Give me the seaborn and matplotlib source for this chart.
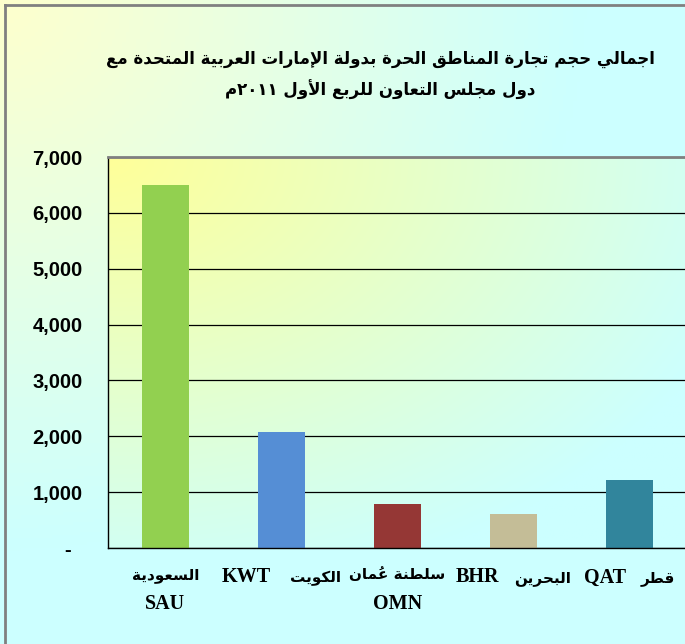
import re
import numpy as np
import seaborn as sns
import matplotlib
matplotlib.use("Agg")
import matplotlib.pyplot as plt
from matplotlib.lines import Line2D
from matplotlib.colors import to_rgb
from matplotlib.offsetbox import TextArea, HPacker, VPacker, AnnotationBbox
import matplotlib.ticker as ticker

# data
codes = ["SAU", "KWT", "OMN", "BHR", "QAT"]
names_ar = ["السعودية", "الكويت", "سلطنة عُمان", "البحرين", "قطر"]
values = [6500, 2075, 790, 610, 1220]
bar_colors = ["#92D050", "#558ED5", "#953735", "#C4BD97", "#31859C"]
title_lines = ["اجمالي حجم تجارة المناطق الحرة بدولة الإمارات العربية المتحدة مع",
               "دول مجلس التعاون للربع الأول ٢٠١١م"]
yticks = [0, 1000, 2000, 3000, 4000, 5000, 6000, 7000]
two_line = [True, False, True, False, False]

# --- tiny arabic shaper (matplotlib has no text shaping / bidi) ---
FORMS = {
    "ا": (0xFE8D, 0xFE8E, None, None), "أ": (0xFE83, 0xFE84, None, None),
    "إ": (0xFE87, 0xFE88, None, None), "آ": (0xFE81, 0xFE82, None, None),
    "ب": (0xFE8F, 0xFE90, 0xFE91, 0xFE92), "ة": (0xFE93, 0xFE94, None, None),
    "ت": (0xFE95, 0xFE96, 0xFE97, 0xFE98), "ج": (0xFE9D, 0xFE9E, 0xFE9F, 0xFEA0),
    "ح": (0xFEA1, 0xFEA2, 0xFEA3, 0xFEA4), "د": (0xFEA9, 0xFEAA, None, None),
    "ر": (0xFEAD, 0xFEAE, None, None), "س": (0xFEB1, 0xFEB2, 0xFEB3, 0xFEB4),
    "ط": (0xFEC1, 0xFEC2, 0xFEC3, 0xFEC4), "ع": (0xFEC9, 0xFECA, 0xFECB, 0xFECC),
    "ق": (0xFED5, 0xFED6, 0xFED7, 0xFED8), "ك": (0xFED9, 0xFEDA, 0xFEDB, 0xFEDC),
    "ل": (0xFEDD, 0xFEDE, 0xFEDF, 0xFEE0), "م": (0xFEE1, 0xFEE2, 0xFEE3, 0xFEE4),
    "ن": (0xFEE5, 0xFEE6, 0xFEE7, 0xFEE8), "و": (0xFEED, 0xFEEE, None, None),
    "ي": (0xFEF1, 0xFEF2, 0xFEF3, 0xFEF4),
}
LAM_ALEF = {"ا": (0xFEFB, 0xFEFC), "أ": (0xFEF7, 0xFEF8),
            "إ": (0xFEF9, 0xFEFA), "آ": (0xFEF5, 0xFEF6)}
MARKS = set(chr(c) for c in range(0x064B, 0x0653))


def ar(text):
    letters = list(text)
    clusters = []
    n = len(letters)

    def prev_joins(k):
        k -= 1
        while k >= 0 and letters[k] in MARKS:
            k -= 1
        return k >= 0 and letters[k] in FORMS and FORMS[letters[k]][2] is not None

    def next_letter(k):
        k += 1
        while k < n and letters[k] in MARKS:
            k += 1
        return k if k < n else None

    i = 0
    while i < n:
        c = letters[i]
        if c in FORMS:
            jp = prev_joins(i)
            j = next_letter(i)
            if c == "ل" and j is not None and letters[j] in LAM_ALEF:
                clusters.append(chr(LAM_ALEF[letters[j]][1 if jp else 0]))
                i = j + 1
                continue
            jn = j is not None and letters[j] in FORMS and FORMS[c][2] is not None
            iso, fin, ini, med = FORMS[c]
            g = med if (jp and jn) else fin if jp else ini if jn else iso
            clusters.append(chr(g))
        elif c in MARKS and clusters:
            # mark goes before its base in visual order so it sits over it
            clusters[-1] = c + clusters[-1]
        else:
            clusters.append(c)
        i += 1
    vis = "".join(clusters[::-1])
    return re.sub("[\u0660-\u0669]+", lambda m: m.group()[::-1], vis)


W, H = 685, 644
fig = plt.figure(figsize=(W / 100, H / 100), dpi=100)
fig.patch.set_linewidth(0)


def gradient(c0, c1, nx, ny, scale):
    xx, yy = np.meshgrid(np.linspace(0, 1, nx), np.linspace(0, 1, ny))
    t = np.clip(np.sqrt(xx ** 2 + yy ** 2) / scale, 0, 1)[..., None]
    a, b = np.array(to_rgb(c0)), np.array(to_rgb(c1))
    return a * (1 - t) + b * t


# figure background with its grey frame (right/bottom cut off in the reference)
bg = fig.add_axes([-0.01, -0.01, 1.02, 1.02], zorder=-10)
bg.imshow(gradient("#FFFFCC", "#CCFFFF", 200, 200, 0.85), extent=[0, 1, 0, 1],
          aspect="auto", origin="upper")
bg.set_axis_off()
fig.add_artist(Line2D([5 / W, 5 / W], [-0.1, 1 - 5 / H], color="#808080", lw=2,
                      transform=fig.transFigure))
fig.add_artist(Line2D([5 / W, 1.1], [1 - 5 / H, 1 - 5 / H], color="#808080", lw=2,
                      transform=fig.transFigure))

sns.set_style("white")
ax = fig.add_axes([107.5 / W, 1 - 548 / H, 580 / W, 391 / H])
ax.patch.set_alpha(0)
ax.imshow(gradient("#FFFF99", "#CCFFFF", 200, 200, 1.15), extent=[-0.5, 4.5, 0, 7000],
          aspect="auto", origin="upper", zorder=-1)

sns.barplot(x=list(range(len(codes))), y=values, hue=list(range(len(codes))),
            palette=bar_colors, width=0.4, legend=False, saturation=1,
            linewidth=0, ax=ax, zorder=2)

ax.set_xlim(-0.5, 4.5)
ax.set_ylim(0, 7000)
ax.set_yticks(yticks)
ax.yaxis.set_major_formatter(ticker.FuncFormatter(
    lambda v, p: "-  " if v == 0 else f"{int(v):,}"))
ax.yaxis.grid(True, color="black", lw=0.9, zorder=1)
ax.set_axisbelow(True)

# category boundaries get the tick marks, labels are packed below
ax.set_xticks(np.arange(-0.5, 5, 1))
ax.set_xticklabels([])
ax.tick_params(axis="x", length=6, width=1, color="black", direction="out")
ax.tick_params(axis="y", length=5, width=1, color="black", direction="out", pad=13)
ax.set_xlabel("")
ax.set_ylabel("")

for lab in ax.get_yticklabels():
    lab.set_fontfamily(["Liberation Sans", "DejaVu Sans"])
    lab.set_fontweight("bold")
    lab.set_fontsize(14.5)
    lab.set_color("black")

lat_props = dict(family="Liberation Serif", weight="bold", size=14.5, color="black")
ar_props = dict(family="DejaVu Sans", weight="bold", size=11, color="black")
gaps = [0, 13.5, 0, 10.5, 10.5]
for i, (code, name) in enumerate(zip(codes, names_ar)):
    t_ar = TextArea(ar(name), textprops=ar_props)
    t_lat = TextArea(code, textprops=lat_props)
    if two_line[i]:
        box = VPacker(children=[t_ar, t_lat], align="center", pad=0, sep=8)
    else:
        box = HPacker(children=[t_lat, t_ar], align="baseline", pad=0, sep=gaps[i])
    ab = AnnotationBbox(box, (i, 0), xycoords=ax.get_xaxis_transform(),
                        xybox=(0, -14), boxcoords="offset points",
                        box_alignment=(0.5, 1), frameon=False, pad=0,
                        annotation_clip=False)
    ax.add_artist(ab)

for side in ["left", "bottom"]:
    ax.spines[side].set_visible(True)
    ax.spines[side].set_color("black")
    ax.spines[side].set_linewidth(1)
ax.spines["top"].set_visible(True)
ax.spines["top"].set_color("#808080")
ax.spines["top"].set_linewidth(2)
ax.spines["right"].set_visible(False)

for k, line in enumerate(title_lines):
    fig.text(380 / W, 1 - (59 + 31 * k) / H, ar(line), ha="center", va="center",
             fontsize=12, fontweight="bold", family=["DejaVu Sans"], color="black")

fig.savefig("out.png", dpi=100)
